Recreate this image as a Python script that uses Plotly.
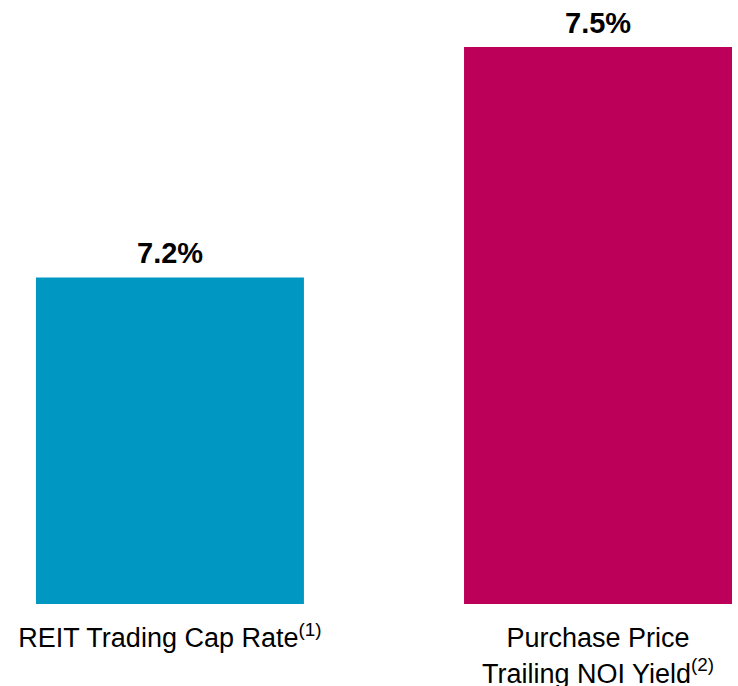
import plotly.graph_objects as go

categories = ["REIT Trading Cap Rate<sup>(1)</sup>",
              "Purchase Price<br>Trailing NOI Yield<sup>(2)</sup>"]
values = [7.2, 7.5]
value_labels = ["7.2%", "7.5%"]
bar_colors = ["#0098C3", "#BC005A"]

fig = go.Figure()
fig.add_trace(go.Bar(
    x=[0, 1],
    y=values,
    marker=dict(color=bar_colors, line=dict(width=0)),
    width=0.626,
    hoverinfo="skip",
))

for i, (v, lbl) in enumerate(zip(values, value_labels)):
    fig.add_annotation(
        x=i, y=v, text="<b>" + lbl + "</b>", showarrow=False,
        yanchor="bottom", yshift=6,
        font=dict(family="Liberation Sans, Arial", size=29, color="#000000"),
    )

fig.update_layout(
    width=738, height=686,
    margin=dict(l=0, r=0, t=0, b=82),
    paper_bgcolor="white", plot_bgcolor="white",
    showlegend=False,
    font=dict(family="Liberation Sans, Arial", size=27, color="#000000"),
)
fig.update_xaxes(
    tickmode="array", tickvals=[0, 1], ticktext=categories,
    range=[-0.397, 1.327], showgrid=False, zeroline=False, showline=False,
    ticks="outside", ticklen=10, tickcolor="rgba(0,0,0,0)",
    tickfont=dict(size=27), automargin=False,
)
fig.update_yaxes(
    range=[6.775, 7.561], visible=False, showgrid=False, zeroline=False,
)

# drop the page's default body margin so the figure sits at the window origin
fig.write_html("out.html", config={"displayModeBar": False},
               post_script="document.body.style.margin='0';"
               "document.body.style.overflow='hidden';")
